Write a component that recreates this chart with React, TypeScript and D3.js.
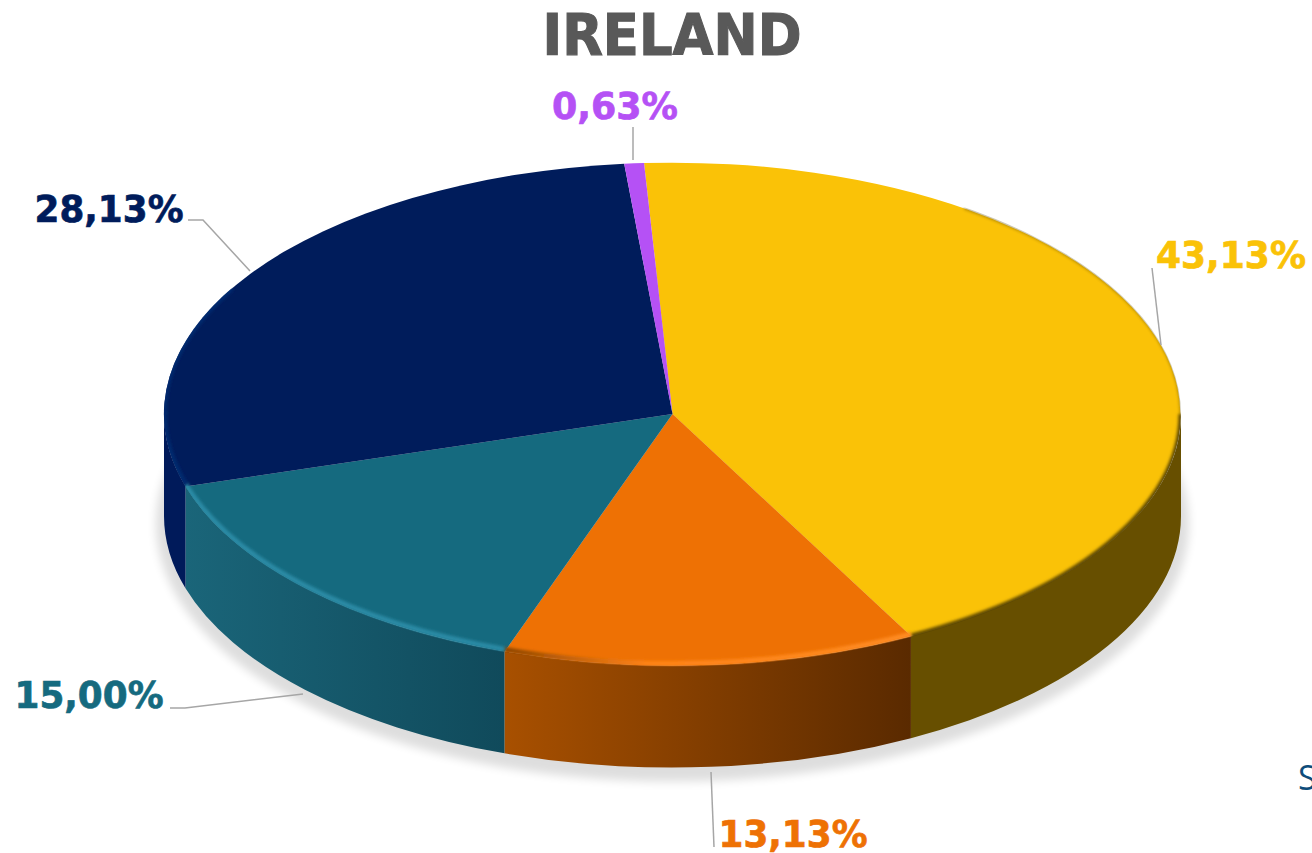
import React from "react";
import * as d3 from "d3";

const categories = ["Yellow", "Orange", "Teal", "Navy", "Purple"];
const shares = [43.13, 13.13, 15.0, 28.13, 0.63];
const colours = ["#FAC207", "#EE7104", "#156A7F", "#001C5B", "#B551F5"];
const wallLeft = ["#674F00", "#A85000", "#1A6579", "#001A5A", "#7A30B0"];
const wallRight = ["#674F00", "#5A2A00", "#104A5B", "#001A5A", "#7A30B0"];
const rimLeft = ["#5E4800", "#FF8C22", "#2C8BA6", "#00296F", "#B551F5"];
const rimMid = ["#5E4800", "#FF8418", "#2C8BA6", "#00296F", "#B551F5"];
const rimRight = ["#5E4800", "#8A4400", "#2C8BA6", "#00296F", "#B551F5"];
const rimBlur = [1.6, 1.5, 1.4, 1.6, 0];
const labelX = [1231, 793, 89, 109, 615];
const labelY = [268, 847, 708, 222, 119];
const labelW = [150, 149, 149, 149, 126];
const leaders: [number, number][][] = [
  [[1152, 268], [1161, 345]],
  [[711, 772], [714, 847]],
  [[170, 708], [185, 708], [303, 694]],
  [[188, 220], [203, 220], [250, 271]],
  [[633, 127], [633, 160]],
];

const W = 1312, H = 853;
const cx = 672.5, cy = 414, rx = 508.5, ry = 251.5, depth = 102;
const startDeg = -3.2;

const locale = d3.formatLocale({ decimal: ",", thousands: ".", grouping: [3], currency: ["", ""] });
const fmt = locale.format(".2f");

const pie = d3.pie<number>().sort(null).startAngle((startDeg * Math.PI) / 180).endAngle((startDeg * Math.PI) / 180 + 2 * Math.PI);
const slices = pie(shares);
const unitArc = d3.arc<d3.PieArcDatum<number>>().innerRadius(0).outerRadius(1);

const pt = (a: number, dy = 0): [number, number] => [cx + rx * Math.sin(a), cy - ry * Math.cos(a) + dy];
const clampFront = (s: d3.PieArcDatum<number>): [number, number] | null => {
  const a0 = Math.max(s.startAngle, Math.PI / 2);
  const a1 = Math.min(s.endAngle, (3 * Math.PI) / 2);
  return a1 > a0 ? [a0, a1] : null;
};
const rimPath = (a0: number, a1: number, dy: number) => {
  const p0 = pt(a0, dy), p1 = pt(a1, dy);
  return `M${p0}A${rx},${ry} 0 0 1 ${p1}`;
};
const wallPath = (a0: number, a1: number) => {
  const p0 = pt(a0), p1 = pt(a1), q0 = pt(a0, depth), q1 = pt(a1, depth);
  return `M${p0}A${rx},${ry} 0 0 1 ${p1}L${q1}A${rx},${ry} 0 0 0 ${q0}Z`;
};
const line = d3.line();
const blurIds = rimBlur.map((_, i) => `rimBlur${i}`);

export default function App() {
  return (
    <svg width={W} height={H} viewBox={`0 0 ${W} ${H}`} style={{ position: "absolute", left: 0, top: 0, display: "block", background: "#fff" }}>
      <defs>
        <filter id="shadow" x="-10%" y="-10%" width="120%" height="120%"><feGaussianBlur stdDeviation="5" /></filter>
        {blurIds.map((id, i) => (
          <filter key={id} id={id} filterUnits="userSpaceOnUse" x={0} y={0} width={W} height={H}>
            <feGaussianBlur stdDeviation={rimBlur[i]} />
          </filter>
        ))}
        {categories.map((c, i) => (
          <linearGradient key={c} id={`wall${i}`} x1="0" x2="1" y1="0" y2="0">
            <stop offset="0" stopColor={wallLeft[i]} />
            <stop offset="1" stopColor={wallRight[i]} />
          </linearGradient>
        ))}
        {categories.map((c, i) => (
          <linearGradient key={c} id={`rim${i}`} x1="0" x2="1" y1="0" y2="0">
            <stop offset="0" stopColor={rimRight[i]} />
            <stop offset="0.35" stopColor={rimMid[i]} />
            <stop offset="1" stopColor={rimLeft[i]} />
          </linearGradient>
        ))}
        <clipPath id="topClip">
          <ellipse cx={cx} cy={cy} rx={rx} ry={ry + 1} />
        </clipPath>
      </defs>

      <ellipse cx={cx} cy={cy + depth + 8} rx={rx + 8} ry={ry + 6} fill="#000" opacity={0.13} filter="url(#shadow)" />

      {slices.map((s, i) => {
        const f = clampFront(s);
        return f ? <path key={i} d={wallPath(f[0], f[1])} fill={`url(#wall${i})`} /> : null;
      })}

      {slices.map((s, i) => (
        <path
          key={i}
          d={unitArc(s) as string}
          transform={`translate(${cx},${cy}) scale(${rx},${ry})`}
          fill={colours[i]}
        />
      ))}

      <g clipPath="url(#topClip)">
        <path d={rimPath((35 * Math.PI) / 180, Math.PI / 2, 0)} fill="none" stroke={rimLeft[0]} strokeWidth={2} filter={`url(#${blurIds[0]})`} opacity={0.6} />
        {slices.map((s, i) => {
          const f = clampFront(s);
          return f ? (
            <path key={i} d={rimPath(f[0], f[1], i === 0 ? 0 : -2)} fill="none" stroke={i === 1 ? "url(#rim1)" : rimLeft[i]} strokeWidth={5} filter={`url(#${blurIds[i]})`} />
          ) : null;
        })}
        <path d={rimPath((270 * Math.PI) / 180, (300 * Math.PI) / 180, 0)} fill="none" stroke={rimLeft[3]} strokeWidth={5} filter={`url(#${blurIds[3]})`} />
      </g>

      {leaders.map((l, i) => (
        <path key={i} d={line(l) as string} fill="none" stroke="#A6A6A6" strokeWidth={1.5} />
      ))}

      <g fontFamily="'DejaVu Sans', sans-serif" fontWeight={700}>
        <text x={672} y={54.5} textAnchor="middle" fontSize={57} fill="#595959" stroke="#595959" strokeWidth={1.2} textLength={259} lengthAdjust="spacingAndGlyphs">IRELAND</text>
        {slices.map((s, i) => (
          <text key={i} x={labelX[i]} y={labelY[i]} textAnchor="middle" fontSize={38} fill={colours[i]} stroke={colours[i]} strokeWidth={0.7} textLength={labelW[i]} lengthAdjust="spacingAndGlyphs">
            {fmt(shares[i])}%
          </text>
        ))}
      </g>
      <text x={1298} y={790} fontFamily="'Open Sans', sans-serif" fontSize={34} fill="#0E4C7A">S</text>
    </svg>
  );
}
